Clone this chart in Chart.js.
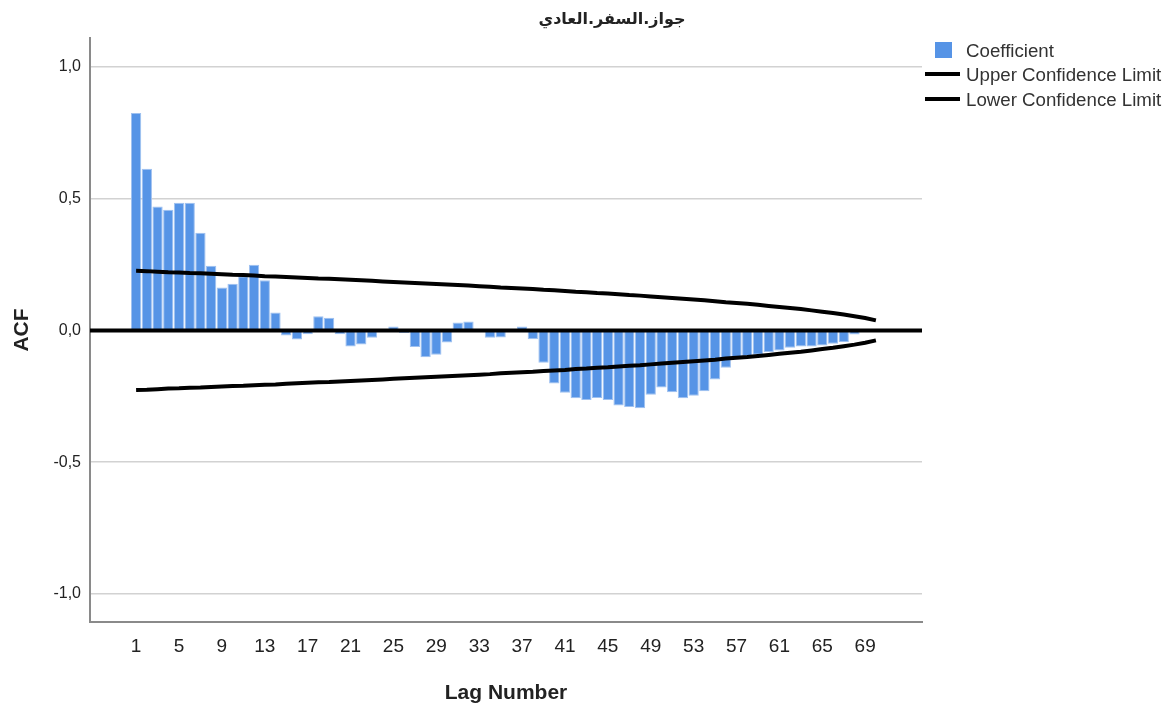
<!DOCTYPE html>
<html>
<head>
<meta charset="utf-8">
<script src="https://cdn.jsdelivr.net/npm/chart.js@4.4.1/dist/chart.umd.min.js"></script>
<style>
  html, body { margin: 0; padding: 0; background: #fff; }
  #wrap { width: 1170px; height: 711px; }
</style>
</head>
<body>
<div id="wrap"><canvas id="acfChart"></canvas></div>
<script>
const chartTitle = "جواز.السفر.العادي";

const lags = [
  1, 2, 3, 4, 5, 6, 7, 8, 9, 10,
  11, 12, 13, 14, 15, 16, 17, 18, 19, 20,
  21, 22, 23, 24, 25, 26, 27, 28, 29, 30,
  31, 32, 33, 34, 35, 36, 37, 38, 39, 40,
  41, 42, 43, 44, 45, 46, 47, 48, 49, 50,
  51, 52, 53, 54, 55, 56, 57, 58, 59, 60,
  61, 62, 63, 64, 65, 66, 67, 68, 69, 70,
];

const coefficient = [
  0.825, 0.614, 0.470, 0.458, 0.485, 0.485, 0.371, 0.245, 0.163, 0.177,
  0.206, 0.249, 0.190, 0.068, -0.019, -0.035, -0.015, 0.054, 0.048, -0.015,
  -0.061, -0.054, -0.028, 0.004, 0.015, -0.010, -0.063, -0.102, -0.092, -0.046,
  0.030, 0.034, 0.003, -0.028, -0.027, -0.004, 0.015, -0.034, -0.123, -0.202,
  -0.237, -0.258, -0.264, -0.257, -0.264, -0.285, -0.291, -0.296, -0.244, -0.217,
  -0.235, -0.258, -0.248, -0.231, -0.186, -0.142, -0.108, -0.098, -0.092, -0.082,
  -0.076, -0.066, -0.061, -0.061, -0.057, -0.051, -0.044, -0.016, -0.004, 0.003,
];

// confidence limits
const upperLimit = [
  0.226, 0.225, 0.223, 0.221, 0.220, 0.218, 0.217, 0.215, 0.213, 0.211,
  0.210, 0.208, 0.206, 0.205, 0.203, 0.201, 0.199, 0.197, 0.196, 0.194,
  0.192, 0.190, 0.188, 0.186, 0.184, 0.182, 0.180, 0.178, 0.176, 0.174,
  0.172, 0.170, 0.168, 0.166, 0.163, 0.161, 0.159, 0.157, 0.154, 0.152,
  0.150, 0.147, 0.145, 0.142, 0.140, 0.137, 0.134, 0.132, 0.129, 0.126,
  0.123, 0.120, 0.117, 0.114, 0.111, 0.107, 0.104, 0.101, 0.097, 0.093,
  0.089, 0.085, 0.081, 0.076, 0.071, 0.066, 0.060, 0.054, 0.047, 0.038,
];
const lowerLimit = [
  -0.226, -0.225, -0.223, -0.221, -0.220, -0.218, -0.217, -0.215, -0.213, -0.211,
  -0.210, -0.208, -0.206, -0.205, -0.203, -0.201, -0.199, -0.197, -0.196, -0.194,
  -0.192, -0.190, -0.188, -0.186, -0.184, -0.182, -0.180, -0.178, -0.176, -0.174,
  -0.172, -0.170, -0.168, -0.166, -0.163, -0.161, -0.159, -0.157, -0.154, -0.152,
  -0.150, -0.147, -0.145, -0.142, -0.140, -0.137, -0.134, -0.132, -0.129, -0.126,
  -0.123, -0.120, -0.117, -0.114, -0.111, -0.107, -0.104, -0.101, -0.097, -0.093,
  -0.089, -0.085, -0.081, -0.076, -0.071, -0.066, -0.060, -0.054, -0.047, -0.038,
];

const xTickLabels = [1, 5, 9, 13, 17, 21, 25, 29, 33, 37, 41, 45, 49, 53, 57, 61, 65, 69];
const yTickValues = [-1.0, -0.5, 0.0, 0.5, 1.0];

const FONT = "'Liberation Sans', Arial, 'DejaVu Sans', sans-serif";
const TEXT = '#222222';
const BAR_BLUE = '#5694e6';

const pts = (vals) => lags.map((l, i) => ({ x: l, y: vals[i] }));

// zero line, title and legend drawn on top of the chart
const acfDecor = {
  id: 'acfDecor',
  afterDatasetsDraw(chart) {
    const { ctx, chartArea, scales } = chart;
    const y0 = scales.y.getPixelForValue(0);
    ctx.save();
    ctx.strokeStyle = '#000';
    ctx.lineWidth = 4;
    ctx.beginPath();
    ctx.moveTo(chartArea.left, y0);
    ctx.lineTo(chartArea.right, y0);
    ctx.stroke();
    ctx.restore();
  },
  afterDraw(chart) {
    const ctx = chart.ctx;
    ctx.save();
    // title
    ctx.fillStyle = TEXT;
    ctx.font = "bold 16px 'DejaVu Sans', sans-serif";
    ctx.textAlign = 'center';
    ctx.textBaseline = 'middle';
    ctx.direction = 'rtl';
    ctx.fillText(chartTitle, 612, 20);
    ctx.direction = 'ltr';

    // legend
    const ds = chart.data.datasets;
    ctx.font = '18.7px ' + FONT;
    ctx.textAlign = 'left';
    ctx.fillStyle = ds[0].backgroundColor;
    ctx.fillRect(935, 42, 17, 16);
    ctx.fillStyle = '#333';
    ctx.fillText(ds[0].label, 966, 52);

    [[ds[1], 76], [ds[2], 101]].forEach(([d, y]) => {
      ctx.strokeStyle = d.borderColor;
      ctx.lineWidth = 4;
      ctx.beginPath();
      ctx.moveTo(925, y - 2);
      ctx.lineTo(960, y - 2);
      ctx.stroke();
      ctx.fillStyle = '#333';
      ctx.fillText(d.label, 966, y);
    });
    ctx.restore();
  },
};

new Chart(document.getElementById('acfChart'), {
  type: 'bar',
  data: {
    datasets: [
      {
        type: 'bar',
        label: 'Coefficient',
        data: pts(coefficient),
        backgroundColor: BAR_BLUE,
        borderColor: '#9fc1f0',
        borderWidth: 1,
        barPercentage: 1,
        categoryPercentage: 0.96,
        order: 2,
      },
      {
        type: 'line',
        label: 'Upper Confidence Limit',
        data: pts(upperLimit),
        borderColor: '#000',
        borderWidth: 4,
        pointRadius: 0,
        tension: 0,
        order: 1,
      },
      {
        type: 'line',
        label: 'Lower Confidence Limit',
        data: pts(lowerLimit),
        borderColor: '#000',
        borderWidth: 4,
        pointRadius: 0,
        tension: 0,
        order: 1,
      },
    ],
  },
  options: {
    responsive: true,
    maintainAspectRatio: false,
    animation: false,
    layout: { padding: { top: 38, right: 248, bottom: 0, left: 0 } },
    plugins: {
      legend: { display: false },
      title: { display: false },
      tooltip: { enabled: false },
    },
    scales: {
      x: {
        type: 'linear',
        min: -3.3,
        max: 74.3,
        offset: false,
        grid: { display: false, drawTicks: false },
        border: { display: true, color: '#8a8a8a', width: 2 },
        afterBuildTicks: (s) => { s.ticks = xTickLabels.map(v => ({ value: v })); },
        afterFit: (s) => { s.height = 89; },
        ticks: {
          color: TEXT,
          font: { family: FONT, size: 19 },
          padding: 13,
          autoSkip: false,
          maxRotation: 0,
          callback: (v) => String(v),
        },
        title: {
          display: true,
          text: 'Lag Number',
          color: TEXT,
          font: { family: FONT, size: 21, weight: 'bold' },
          padding: { top: 0, bottom: 5 },
        },
      },
      y: {
        min: -1.107,
        max: 1.11,
        grid: {
          drawTicks: false,
          lineWidth: 1.5,
          color: (c) => (c.tick && c.tick.value === 0 ? 'rgba(0,0,0,0)' : '#d2d2d2'),
        },
        border: { display: true, color: '#8a8a8a', width: 2 },
        afterBuildTicks: (s) => { s.ticks = yTickValues.map(v => ({ value: v })); },
        afterFit: (s) => { s.width = 90; },
        ticks: {
          color: TEXT,
          font: { family: FONT, size: 16 },
          padding: 9,
          callback: (v) => v.toFixed(1).replace('.', ','),
        },
        title: {
          display: true,
          text: 'ACF',
          color: TEXT,
          font: { family: FONT, size: 21, weight: 'bold' },
          padding: { top: 10, bottom: 0 },
        },
      },
    },
  },
  plugins: [acfDecor],
});
</script>
</body>
</html>
